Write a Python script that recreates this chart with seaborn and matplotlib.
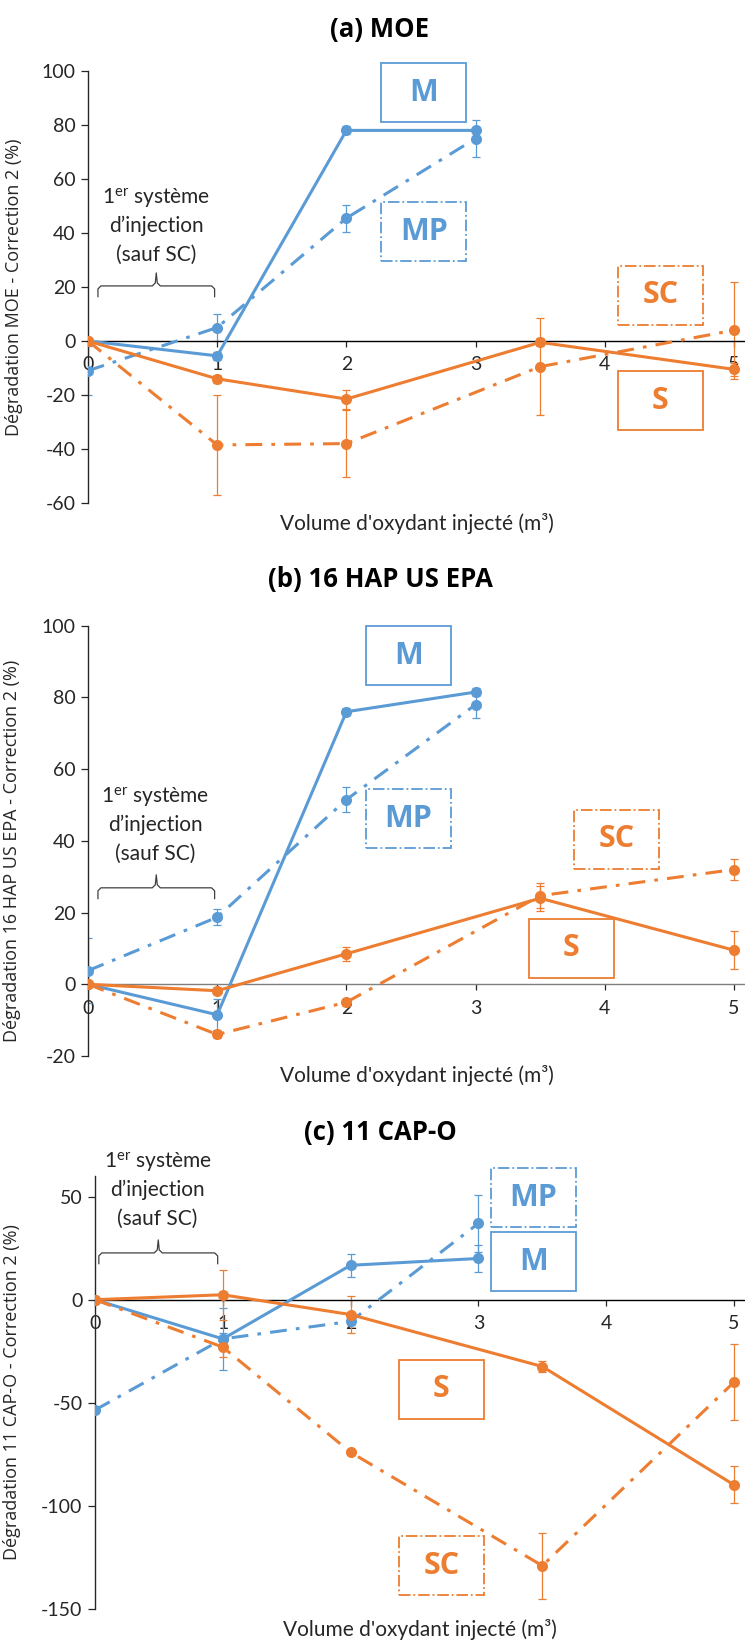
import matplotlib
matplotlib.use("Agg")
import matplotlib.pyplot as plt
from matplotlib.patches import Rectangle
import seaborn as sns

# x positions (volume d'oxydant injecte, m3)
x_m = [0, 1, 2, 3]
x_s = [0, 1, 2, 3.5, 5]

# (a) MOE
moe_m = [0, -5.5, 78, 78]
moe_m_err = [0, 1.5, 1.5, 1]
moe_mp = [-11, 5, 45.5, 75]
moe_mp_err = [9, 5, 5, 7]
moe_s = [0, -14, -21.5, -0.5, -10.5]
moe_s_err = [0, 1.5, 3.5, 1.5, 2.5]
moe_sc = [0, -38.5, -38, -9.5, 4]
moe_sc_err = [0, 18.5, 12.5, 18, 18]

# (b) 16 HAP US EPA
hap_m = [0, -8.5, 76, 81.5]
hap_m_err = [0, 4.3, 1, 1]
hap_mp = [3.8, 18.7, 51.5, 78]
hap_mp_err = [9, 2.2, 3.5, 3.8]
hap_s = [0, -1.8, 8.5, 24, 9.5]
hap_s_err = [0, 1, 2, 3.5, 5.3]
hap_sc = [0, -14, -5, 24.7, 32]
hap_sc_err = [0, 1, 1, 3.5, 3]

# (c) 11 CAP-O
cap_m = [0, -19, 16.7, 20]
cap_m_err = [0, 3, 5.5, 6.5]
cap_mp = [-53.5, -19, -10.5, 37]
cap_mp_err = [0, 15, 2, 14]
cap_s = [0, 2.4, -7.2, -32.4, -89.8]
cap_s_err = [0, 12, 9, 2.5, 9]
cap_sc = [0, -23, -74, -129, -40]
cap_sc_err = [0, 5, 1.5, 16, 18.5]

titles = ["(a) MOE", "(b) 16 HAP US EPA", "(c) 11 CAP-O"]
ylabels = ["Dégradation MOE - Correction 2 (%)",
           "Dégradation 16 HAP US EPA - Correction 2 (%)",
           "Dégradation 11 CAP-O - Correction 2 (%)"]
xlabel = "Volume d'oxydant injecté (m³)"

BLUE = "#5B9BD5"
ORANGE = "#ED7D31"
DASHDOT = (0, (5.5, 3, 1.2, 3))

sns.set_style("white")
plt.rcParams["font.family"] = ["Lato", "DejaVu Sans"]
plt.rcParams["mathtext.default"] = "regular"
plt.rcParams["axes.unicode_minus"] = False

fig = plt.figure(figsize=(7.45, 16.42), dpi=100)
W, H = 745, 1642
TXT = "#262626"


def draw_series(ax, x, y, err, color, ls):
    sns.lineplot(x=x, y=y, ax=ax, color=color, linestyle=ls, lw=2.2,
                 marker="o", markersize=8, markeredgecolor=color,
                 markeredgewidth=0, zorder=3)
    ax.errorbar(x, y, yerr=err, fmt="none", ecolor=color, elinewidth=0.9,
                capsize=3, capthick=0.9, zorder=2)


def label_box(ax, xc, yc, text, color, ls):
    p = ax.transData.transform((xc, yc))
    inv = ax.transData.inverted()
    x0, y0 = inv.transform((p[0] - 42.5, p[1] - 29.5))
    x1, y1 = inv.transform((p[0] + 42.5, p[1] + 29.5))
    ax.add_patch(Rectangle((x0, y0), x1 - x0, y1 - y0, fill=False, ec=color,
                           lw=1.3, ls=ls, clip_on=False, zorder=4))
    ax.text(xc, yc, text, ha="center", va="center", color=color,
            fontsize=22, fontweight="bold", family=["Open Sans"], zorder=5)


def brace(ax, x0, x1, y):
    a = ax.transData.transform((x0, y))
    b = ax.transData.transform((x1, y))
    xm = (a[0] + b[0]) / 2
    yy = a[1]
    pts = [(a[0], yy - 11), (a[0], yy - 3), (a[0] + 3, yy), (xm - 4, yy),
           (xm - 1, yy + 3), (xm, yy + 13), (xm + 1, yy + 3), (xm + 4, yy),
           (b[0] - 3, yy), (b[0], yy - 3), (b[0], yy - 11)]
    inv = ax.transData.inverted()
    d = inv.transform(pts)
    ax.plot(d[:, 0], d[:, 1], color="#404040", lw=0.9, clip_on=False)


def injection_note(ax, xc, yc):
    lines = ["1$^{er}$ système", "d’injection", "(sauf SC)"]
    for i, t in enumerate(lines):
        ax.annotate(t, (xc, yc), xytext=(0, (1 - i) * 20.5),
                    textcoords="offset points", ha="center", va="center",
                    fontsize=15, color=TXT, annotation_clip=False)


panels = [
    dict(pos=(88, 71, 503), ylim=(-60, 100), yticks=range(-60, 101, 20),
         data=[(x_m, moe_m, moe_m_err, BLUE, "-"),
               (x_m, moe_mp, moe_mp_err, BLUE, DASHDOT),
               (x_s, moe_s, moe_s_err, ORANGE, "-"),
               (x_s, moe_sc, moe_sc_err, ORANGE, DASHDOT)],
         boxes=[(2.6, 92, "M", BLUE, "-"), (2.6, 40.4, "MP", BLUE, "-."),
                (4.43, 17, "SC", ORANGE, "-."), (4.43, -22.2, "S", ORANGE, "-")],
         brace=(0.077, 0.98, 20.4), note=(0.53, 42.6), title_y=30,
         ylab_x=-0.099, ylab_y=0.5, xaxis_col="black"),
    dict(pos=(88, 625.7, 1056), ylim=(-20, 100), yticks=range(-20, 101, 20),
         data=[(x_m, hap_m, hap_m_err, BLUE, "-"),
               (x_m, hap_mp, hap_mp_err, BLUE, DASHDOT),
               (x_s, hap_s, hap_s_err, ORANGE, "-"),
               (x_s, hap_sc, hap_sc_err, ORANGE, DASHDOT)],
         boxes=[(2.48, 91.6, "M", BLUE, "-"), (2.48, 46.2, "MP", BLUE, "-."),
                (4.09, 40.5, "SC", ORANGE, "-."), (3.74, 10, "S", ORANGE, "-")],
         brace=(0.077, 0.98, 26.9), note=(0.52, 44.4), title_y=580,
         ylab_x=-0.102, ylab_y=0.477, xaxis_col="#7f7f7f"),
    dict(pos=(95, 1176, 1609), ylim=(-150, 60), yticks=range(-150, 51, 50),
         data=[(x_m, cap_m, cap_m_err, BLUE, "-"),
               (x_m, cap_mp, cap_mp_err, BLUE, DASHDOT),
               (x_s, cap_s, cap_s_err, ORANGE, "-"),
               (x_s, cap_sc, cap_sc_err, ORANGE, DASHDOT)],
         boxes=[(3.43, 49.5, "MP", BLUE, "-."), (3.43, 18.3, "M", BLUE, "-"),
                (2.71, -43.5, "S", ORANGE, "-"), (2.71, -129, "SC", ORANGE, "-.")],
         brace=(0.03, 0.96, 22.7), note=(0.49, 53.1), title_y=1132,
         ylab_x=-0.114, ylab_y=0.5, xaxis_col="black"),
]

for k, p in enumerate(panels):
    left, top, bottom = p["pos"]
    ax = fig.add_axes([left / W, 1 - bottom / H, (W - left) / W, (bottom - top) / H])
    unit = (734 - left) / 5
    ax.set_xlim(0, (W - left) / unit)
    ax.set_ylim(*p["ylim"])

    for x, y, e, c, ls in p["data"]:
        draw_series(ax, x, y, e, c, ls)

    ax.set_xticks([0, 1, 2, 3, 4, 5])
    ax.set_yticks(list(p["yticks"]))
    ax.spines["top"].set_visible(False)
    ax.spines["right"].set_visible(False)
    ax.spines["bottom"].set_position(("data", 0))
    ax.spines["bottom"].set_color(p["xaxis_col"])
    ax.spines["left"].set_color(TXT)
    ax.spines["bottom"].set_linewidth(1.0)
    ax.spines["left"].set_linewidth(1.0)
    ax.tick_params(axis="x", bottom=True, direction="out", length=4, width=0.9,
                   pad=7, labelsize=14, colors=TXT)
    ax.tick_params(axis="y", left=True, direction="out", length=5, width=0.9,
                   pad=4, labelsize=14, colors=TXT)

    ax.set_ylabel(ylabels[k], fontsize=13, color=TXT, family=["Open Sans"])
    ax.yaxis.set_label_coords(p["ylab_x"], p["ylab_y"])
    ax.set_xlabel(xlabel, fontsize=15, color=TXT, va="center")
    ax.xaxis.set_label_coords(0.5, -20 / (bottom - top))

    for bx, by, t, c, ls in p["boxes"]:
        label_box(ax, bx, by, t, c, ls)
    brace(ax, *p["brace"])
    injection_note(ax, *p["note"])

    fig.text(380 / W, 1 - p["title_y"] / H, titles[k], ha="center", va="center",
             fontsize=18.5, fontweight="bold", family=["Open Sans"], color="black")

fig.savefig("out.png", dpi=100)
